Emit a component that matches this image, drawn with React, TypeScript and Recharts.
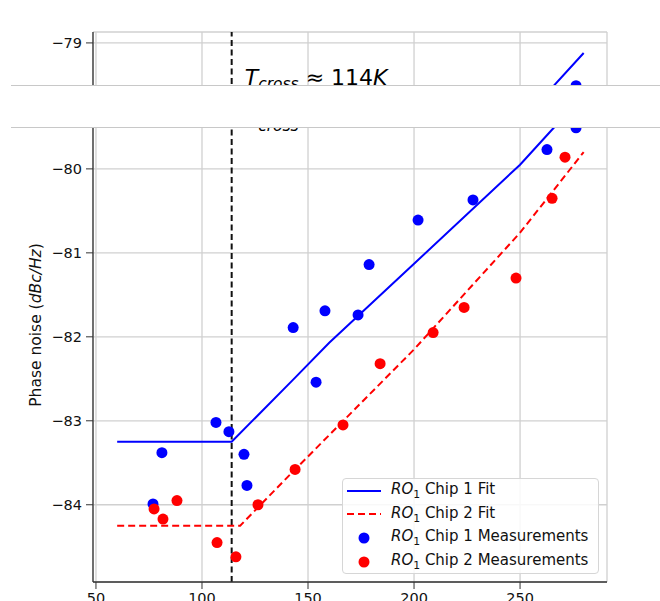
import React from "react";
import {
  ComposedChart,
  Line,
  Scatter,
  XAxis,
  YAxis,
  CartesianGrid,
  ReferenceLine,
  Legend,
} from "recharts";

// axes
const X_DOMAIN = [48.6, 291];
const Y_DOMAIN = [-84.92, -78.87];
const X_TICKS = [50, 100, 150, 200, 250];
const Y_TICKS = [-84, -83, -82, -81, -80, -79];
const T_CROSS = 114;

// fit curves
const chip1FitX = [60, 114, 143, 160, 200, 250, 280];
const chip1FitY = [-83.25, -83.25, -82.51, -82.07, -81.13, -79.95, -79.12];
const chip2FitX = [60, 118, 140, 160, 200, 250, 280];
const chip2FitY = [-84.25, -84.25, -83.68, -83.17, -82.15, -80.76, -79.8];

// measurements
const chip1MeasX = [76.9, 81.1, 106.6, 112.7, 119.8, 121.2, 143, 153.8, 158, 173.6, 178.8, 201.9, 227.8, 262.7, 276.4];
const chip1MeasY = [-83.99, -83.38, -83.02, -83.13, -83.4, -83.77, -81.89, -82.54, -81.69, -81.74, -81.14, -80.61, -80.37, -79.77, -79.51];
const chip2MeasX = [77.4, 81.6, 88.2, 107.1, 116, 126.4, 143.9, 166.5, 184, 209, 223.6, 248.1, 265.1, 271.2];
const chip2MeasY = [-84.05, -84.17, -83.95, -84.45, -84.62, -84.0, -83.58, -83.05, -82.32, -81.95, -81.65, -81.3, -80.35, -79.86];

const zip = (xs: number[], ys: number[]) => xs.map((x, i) => ({ x, y: ys[i] }));

const chip1Fit = zip(chip1FitX, chip1FitY);
const chip2Fit = zip(chip2FitX, chip2FitY);
const chip1Meas = zip(chip1MeasX, chip1MeasY);
const chip2Meas = zip(chip2MeasX, chip2MeasY);

const BLUE = "#0000ff";
const RED = "#ff0000";
const FONT = "DejaVu Sans";
const SPINE = "#333";

const minus = (v: number) => String(v).replace("-", "\u2212");

const dot = (color: string) => (p: any) => (
  <circle cx={p.cx} cy={p.cy} r={5.5} fill={color} />
);

function Title(props: any) {
  const vb = props.viewBox || {};
  const cx = vb.width ? vb.x + vb.width / 2 : 350;
  return (
    <text x={cx} y={23} textAnchor="middle" fontFamily={FONT} fontSize={17.5} fill="#111">
      <tspan fontStyle="italic">RO</tspan>
      <tspan fontSize={12.5} dy={3}>1</tspan>
      <tspan dy={-3}> Chip 1 vs. </tspan>
      <tspan fontStyle="italic">RO</tspan>
      <tspan fontSize={12.5} dy={3}>1</tspan>
      <tspan dy={-3}> Chip 2</tspan>
    </text>
  );
}

function YLabel(props: any) {
  const vb = props.viewBox || {};
  const cy = vb.height ? vb.y + vb.height / 2 : 286;
  return (
    <text
      transform={`translate(41, ${cy - 3}) rotate(-90)`}
      textAnchor="middle"
      fontFamily={FONT}
      fontSize={15.5}
      fill="#111"
    >
      Phase noise (<tspan fontStyle="italic">dBc/Hz</tspan>)
    </text>
  );
}

function CrossLabel(props: any) {
  const vb = props.viewBox || { x: 232, y: 32 };
  return (
    <text x={vb.x + 13} y={vb.y + 53} fontFamily={FONT} fontSize={22} fill="#000">
      <tspan fontStyle="italic">T</tspan>
      <tspan fontStyle="italic" fontSize={15.5} dy={4}>cross</tspan>
      <tspan dy={-4}> ≈ 114</tspan>
      <tspan fontStyle="italic">K</tspan>
    </text>
  );
}

const LEGEND_ITEMS = [
  { chip: "Chip 1 Fit", color: BLUE, kind: "line" },
  { chip: "Chip 2 Fit", color: RED, kind: "dash" },
  { chip: "Chip 1 Measurements", color: BLUE, kind: "dot" },
  { chip: "Chip 2 Measurements", color: RED, kind: "dot" },
];

function LegendBox() {
  return (
    <div
      style={{
        boxSizing: "border-box",
        width: 257,
        height: 96,
        border: "1px solid #d6d6d6",
        borderRadius: 4,
        background: "rgba(255,255,255,0.85)",
        fontFamily: FONT,
        fontSize: 15,
        color: "#111",
      }}
    >
      {LEGEND_ITEMS.map((it) => (
        <div key={it.chip} style={{ display: "flex", alignItems: "center", height: 23.6 }}>
          <svg width={48} height={20} style={{ flex: "none" }}>
            {it.kind === "dot" ? (
              <circle cx={21} cy={10} r={5.5} fill={it.color} />
            ) : (
              <line
                x1={4}
                x2={38}
                y1={10}
                y2={10}
                stroke={it.color}
                strokeWidth={2}
                strokeDasharray={it.kind === "dash" ? "7 4" : undefined}
              />
            )}
          </svg>
          <span style={{ whiteSpace: "nowrap" }}>
            <i>RO</i>
            <sub style={{ fontSize: "0.72em" }}>1</sub> {it.chip}
          </span>
        </div>
      ))}
    </div>
  );
}

function Plot() {
  const tickStyle = { fill: "#111", fontSize: 14.5, fontFamily: FONT };
  return (
    <div style={{ width: 660, height: 600, background: "#fff" }}>
      <ComposedChart width={660} height={600} margin={{ top: 32, right: 53, bottom: 0, left: 0 }}>
        <CartesianGrid stroke="#d0d0d0" strokeWidth={1.3} />
        <XAxis
          dataKey="x"
          type="number"
          domain={X_DOMAIN}
          ticks={X_TICKS}
          allowDataOverflow
          height={60}
          tick={tickStyle}
          tickSize={7}
          tickMargin={4}
          tickLine={{ stroke: SPINE }}
          axisLine={{ stroke: SPINE, strokeWidth: 1.3 }}
        />
        <XAxis
          xAxisId="top"
          orientation="top"
          type="number"
          domain={X_DOMAIN}
          allowDataOverflow
          height={0}
          tick={false}
          tickLine={false}
          axisLine={{ stroke: SPINE, strokeWidth: 1.3 }}
          label={<Title />}
        />
        <YAxis
          dataKey="y"
          type="number"
          domain={Y_DOMAIN}
          ticks={Y_TICKS}
          allowDataOverflow
          width={93}
          tick={tickStyle}
          tickFormatter={minus}
          tickSize={7}
          tickMargin={4}
          tickLine={{ stroke: SPINE }}
          axisLine={{ stroke: SPINE, strokeWidth: 1.3 }}
          label={<YLabel />}
        />
        <YAxis
          yAxisId="right"
          orientation="right"
          type="number"
          domain={Y_DOMAIN}
          allowDataOverflow
          width={0}
          tick={false}
          tickLine={false}
          axisLine={{ stroke: SPINE, strokeWidth: 1.3 }}
        />
        <ReferenceLine
          x={T_CROSS}
          stroke="#111"
          strokeWidth={2}
          strokeDasharray="6 3.5"
          label={<CrossLabel />}
        />
        <Line data={chip1Fit} dataKey="y" type="linear" stroke={BLUE} strokeWidth={2} dot={false} isAnimationActive={false} />
        <Line data={chip2Fit} dataKey="y" type="linear" stroke={RED} strokeWidth={2} strokeDasharray="7 4" dot={false} isAnimationActive={false} />
        <Scatter data={chip1Meas} dataKey="y" fill={BLUE} shape={dot(BLUE)} isAnimationActive={false} />
        <Scatter data={chip2Meas} dataKey="y" fill={RED} shape={dot(RED)} isAnimationActive={false} />
        <Legend
          layout="vertical"
          align="center"
          verticalAlign="middle"
          wrapperStyle={{ position: "absolute", left: 342, top: 436, width: 257, height: 96 }}
          content={() => <LegendBox />}
        />
      </ComposedChart>
    </div>
  );
}

export default function App() {
  return (
    <div style={{ position: "absolute", left: 0, top: 0, width: 660, height: 601, overflow: "hidden", background: "#fff" }}>
      {/* lower tile, shifted down */}
      <div style={{ position: "absolute", left: 0, top: 42 }}>
        <Plot />
      </div>
      {/* upper tile */}
      <div style={{ position: "absolute", left: 0, top: 0, width: 660, height: 86, overflow: "hidden", background: "#fff" }}>
        <Plot />
      </div>
      {/* blank strip between tiles */}
      <div
        style={{
          position: "absolute",
          left: 11,
          right: 0,
          top: 85,
          height: 41,
          background: "#fff",
          borderTop: "1px solid #c8c8c8",
          borderBottom: "1px solid #c8c8c8",
        }}
      />
    </div>
  );
}
